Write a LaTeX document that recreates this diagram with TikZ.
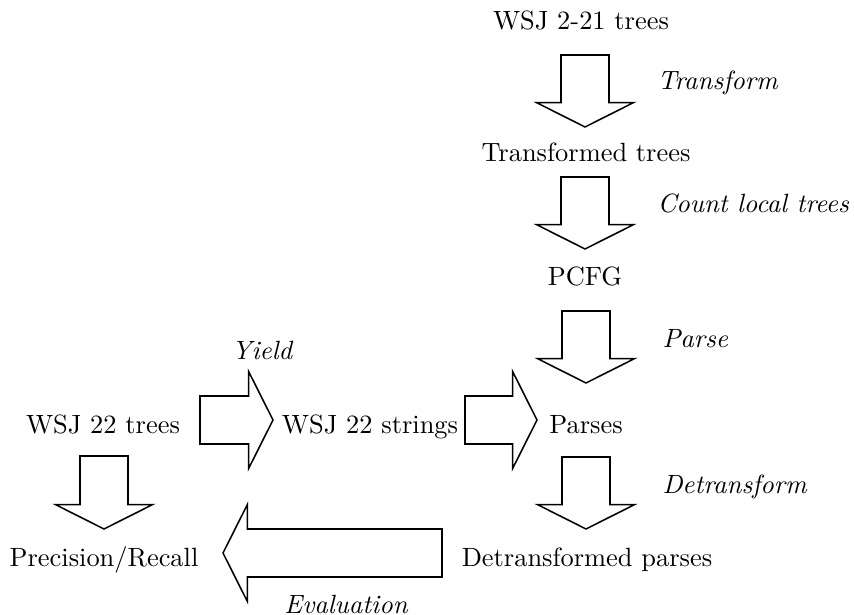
\documentclass[tikz,border=0pt]{standalone}
\usetikzlibrary{calc}

\tikzset{
	item/.style={inner sep=0pt, anchor=base},
	steplabel/.style={inner sep=0pt, anchor=base west, font=\itshape},
	blockarrow/.style={draw, line width=0.6pt, line join=miter}
}

% hollow block arrow from tail #1 to tip #2
\newcommand{\fatarrow}[2]{%
	\coordinate (fa-neck) at ($(#2)!9.6pt!(#1)$);
	\draw[blockarrow] ($(#1)!9.45pt!90:(#2)$)
		-- ($(fa-neck)!9.45pt!90:(#2)$)
		-- ($(fa-neck)!19.1pt!90:(#2)$)
		-- (#2)
		-- ($(fa-neck)!19.1pt!-90:(#2)$)
		-- ($(fa-neck)!9.45pt!-90:(#2)$)
		-- ($(#1)!9.45pt!-90:(#2)$)
		-- cycle;}

\begin{document}
\fontsize{10.4pt}{12.5pt}\selectfont
\begin{tikzpicture}[x=0.01384cm, y=-0.01384cm]
		\useasboundingbox (0,0) rectangle (854,615);

		% corpora and intermediate results
		\node[item] (trees221)   at (581,30)  {WSJ 2-21 trees};
		\node[item] (transtrees) at (586,162) {Transformed trees};
		\node[item] (pcfg)       at (585,286) {PCFG};
		\node[item] (parses)     at (586,433) {Parses};
		\node[item] (detparses)  at (587,566) {Detransformed parses};
		\node[item] (wsjtrees)   at (103,433) {WSJ 22 trees};
		\node[item] (strings)    at (370,433) {WSJ 22 strings};
		\node[item] (precrec)    at (104,566) {Precision/Recall};

		% step labels
		\node[steplabel] (ltransform)   at (657,90)  {Transform};
		\node[steplabel] (lcount)       at (657,213) {Count local trees};
		\node[steplabel] (lparse)       at (662,348) {Parse};
		\node[steplabel] (ldetransform) at (662,493) {Detransform};
		\node[item, font=\itshape] (lyield) at (262,360) {Yield};
		\node[item, font=\itshape] (leval)  at (346,613) {Evaluation};

		% arrow tails and tips
		\coordinate (transform-t) at (585,55);   \coordinate (transform-h) at (585,127);
		\coordinate (count-t)     at (585,177);  \coordinate (count-h)     at (585,249);
		\coordinate (parse-t)     at (586,311);  \coordinate (parse-h)     at (586,383);
		\coordinate (detrans-t)   at (586,457);  \coordinate (detrans-h)   at (586,529);
		\coordinate (score-t)     at (104,456);  \coordinate (score-h)     at (104,529);
		\coordinate (yield-t)     at (200,420);  \coordinate (yield-h)     at (273,420);
		\coordinate (feed-t)      at (465,420);  \coordinate (feed-h)      at (537,420);
		\coordinate (eval-t)      at (442,553);  \coordinate (eval-h)      at (223,553);

		% block arrows
		\fatarrow{transform-t}{transform-h}
		\fatarrow{count-t}{count-h}
		\fatarrow{parse-t}{parse-h}
		\fatarrow{detrans-t}{detrans-h}
		\fatarrow{score-t}{score-h}
		\fatarrow{yield-t}{yield-h}
		\fatarrow{feed-t}{feed-h}
		\fatarrow{eval-t}{eval-h}
\end{tikzpicture}
\end{document}
